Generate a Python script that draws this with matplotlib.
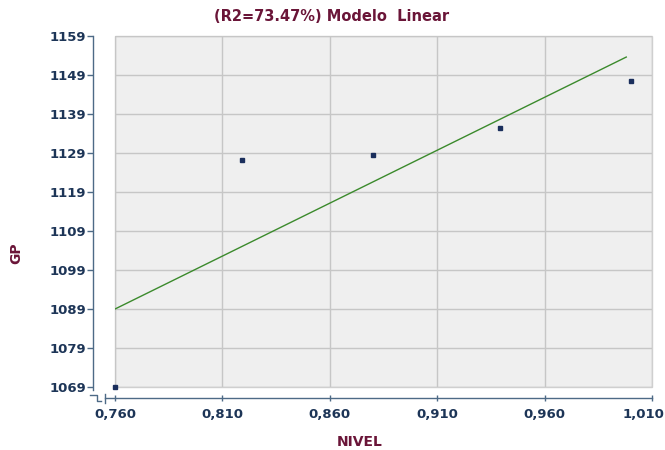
import matplotlib
matplotlib.use("Agg")
import matplotlib.pyplot as plt
import matplotlib.ticker as mticker
import matplotlib.transforms as mtrans

# ── Data ─────────────────────────────────────────────────────────────────────
NIVEL = [0.760, 0.819, 0.880, 0.939, 1.000]
GP    = [1069.0, 1127.2, 1128.5, 1135.4, 1147.5]

FIT_X = [0.760, 0.998]
FIT_Y = [1089.0, 1153.6]

X_TICKS = [0.760, 0.810, 0.860, 0.910, 0.960, 1.010]
Y_TICKS = [1069, 1079, 1089, 1099, 1109, 1119, 1129, 1139, 1149, 1159]

TITLE = "(R2=73.47%) Modelo  Linear"

MAROON = "#6a1538"
NAVY   = "#1d3557"
SPINE  = "#4d6a86"

plt.rcParams["font.family"] = ["DejaVu Sans"]

fig = plt.figure(figsize=(6.65, 4.5), dpi=100)
ax = fig.add_axes([0.173, 0.14, 0.8075, 0.78])

ax.set_facecolor("#efefef")
ax.patch.set_edgecolor("#cfcfcf")
ax.patch.set_linewidth(1.0)

ax.plot(FIT_X, FIT_Y, color="#3b8a2c", lw=1.0, zorder=3)
ax.plot(NIVEL, GP, ls="none", marker="s", ms=2.6, color="#1a2e5c",
        clip_on=False, zorder=4)

ax.set_xlim(X_TICKS[0], X_TICKS[-1])
ax.set_ylim(Y_TICKS[0], Y_TICKS[-1])
ax.set_xticks(X_TICKS)
ax.set_yticks(Y_TICKS)
ax.xaxis.set_major_formatter(mticker.FuncFormatter(lambda v, _: f"{v:.3f}".replace(".", ",")))
ax.yaxis.set_major_formatter(mticker.FuncFormatter(lambda v, _: f"{v:.0f}"))

ax.grid(True, color="#c6c6c6", lw=1.0)
ax.set_axisbelow(True)

for s in ["top", "right"]:
    ax.spines[s].set_visible(False)
ax.spines["left"].set_position(("outward", 16))
ax.spines["bottom"].set_position(("outward", 8))
ax.spines["bottom"].set_bounds(0.7553, X_TICKS[-1])
ax.spines["left"].set_bounds(1068.2, Y_TICKS[-1])
for s in ["left", "bottom"]:
    ax.spines[s].set_color(SPINE)
    ax.spines[s].set_linewidth(1.0)

ax.tick_params(axis="both", colors=SPINE, labelcolor=NAVY, labelsize=9.5,
               length=4, width=1.0)
ax.tick_params(axis="x", direction="inout", pad=5)
ax.tick_params(axis="y", direction="out", pad=1)
fig.canvas.draw()
for lab in ax.get_xticklabels() + ax.get_yticklabels():
    lab.set_fontweight("bold")
# last x label is pulled in so it stays inside the figure
last = ax.get_xticklabels()[-1]
last.set_transform(last.get_transform() + mtrans.ScaledTranslation(-0.09, 0, fig.dpi_scale_trans))

# axis break marks at the lower left corner (figure pixels)
H = 450.0
W = 665.0
tr = fig.transFigure
ax.plot([90/W, 97/W, 97/W, 101/W], [1-395/H, 1-395/H, 1-401/H, 1-401/H],
        color=SPINE, lw=1.0, transform=tr, clip_on=False)
ax.plot([105/W, 105/W], [1-394/H, 1-403/H],
        color=SPINE, lw=1.0, transform=tr, clip_on=False)

fig.text(0.499, 0.964, TITLE, ha="center", va="center", fontsize=10.5,
         fontweight="bold", color=MAROON)
fig.text(0.025, 0.437, "GP", ha="center", va="center", rotation=90,
         fontsize=10, fontweight="bold", color=MAROON)
fig.text(0.541, 0.018, "NIVEL", ha="center", va="center",
         fontsize=10, fontweight="bold", color=MAROON)

fig.savefig("out.png", dpi=100, facecolor="white")
